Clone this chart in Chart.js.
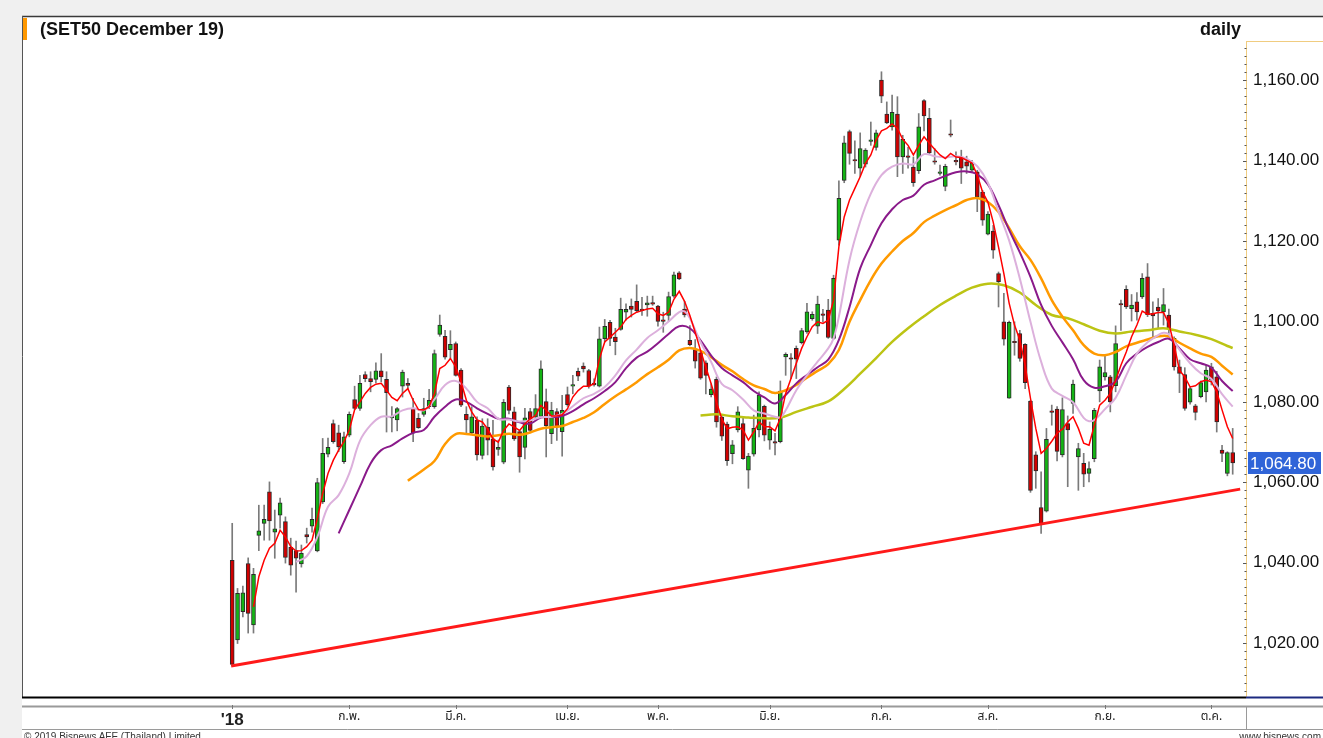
<!DOCTYPE html>
<html>
<head>
<meta charset="utf-8">
<script src="https://cdn.jsdelivr.net/npm/chart.js@4.4.1/dist/chart.umd.min.js"></script>
<style>
  html, body { margin: 0; padding: 0; background: #f0f0f0; }
  #wrap { position: relative; width: 1323px; height: 738px; overflow: hidden; }
  #c { position: absolute; left: 0; top: 0; }
  .lbl { position: absolute; font-family: "Liberation Sans", Arial, sans-serif; color: #111; white-space: nowrap; }
  #title { left: 40px; top: 19px; font-size: 18px; font-weight: bold; }
  #freq { right: 82px; top: 19px; font-size: 18px; font-weight: bold; }
  #copy { left: 24px; top: 731px; font-size: 10px; color: #333; }
  #site { right: 2px; top: 731px; font-size: 10px; color: #333; }
</style>
</head>
<body>
<div id="wrap">
  <canvas id="c" width="1323" height="738"></canvas>
  <div class="lbl" id="title">(SET50 December 19)</div>
  <div class="lbl" id="freq">daily</div>
  <div class="lbl" id="copy">© 2019 Bisnews AFE (Thailand) Limited</div>
  <div class="lbl" id="site">www.bisnews.com</div>
</div>
<script>
/* globals Chart:false */

// SET50 futures, daily bars, 2 Jan - 5 Oct 2018 (trading-day index 0..188)
const open = [
  1040.6, 1020.8, 1027.8, 1039.8, 1024.5, 1046.8, 1049.8, 1057.6, 1047.6, 1051.8,
  1050.2, 1043.8, 1043.0, 1039.7, 1047.0, 1049.1, 1042.9, 1055.1, 1067.0, 1074.6,
  1072.3, 1065.1, 1071.7, 1080.6, 1078.4, 1086.8, 1085.8, 1085.6, 1087.7, 1085.6,
  1076.0, 1075.5, 1083.9, 1084.6, 1078.4, 1075.9, 1076.9, 1078.8, 1078.8, 1096.8,
  1096.3, 1093.0, 1094.5, 1087.9, 1076.9, 1072.3, 1075.5, 1066.7, 1073.7, 1070.8,
  1068.2, 1065.0, 1083.7, 1077.5, 1072.6, 1068.7, 1077.6, 1076.2, 1076.4, 1080.1,
  1072.1, 1077.6, 1072.6, 1081.8, 1083.9, 1087.6, 1088.9, 1087.8, 1084.7, 1083.9,
  1095.7, 1099.8, 1096.1, 1098.0, 1102.3, 1103.8, 1105.0, 1103.1, 1104.1, 1104.4,
  1103.8, 1100.3, 1101.5, 1106.3, 1112.1, 1103.1, 1095.3, 1093.0, 1092.2, 1089.7,
  1081.8, 1085.6, 1076.2, 1074.5, 1067.1, 1073.0, 1074.6, 1063.0, 1067.0, 1073.0,
  1078.9, 1070.5, 1070.1, 1070.1, 1091.2, 1090.8, 1093.3, 1094.7, 1097.4, 1100.7,
  1098.8, 1101.8, 1102.8, 1095.8, 1120.2, 1135.1, 1147.2, 1140.1, 1138.1, 1139.1,
  1144.8, 1143.3, 1160.0, 1151.6, 1148.4, 1151.6, 1140.9, 1140.9, 1138.4, 1137.5,
  1154.9, 1150.5, 1139.9, 1136.8, 1133.6, 1146.6, 1139.9, 1140.9, 1139.7, 1137.6,
  1137.2, 1132.2, 1121.7, 1122.5, 1111.9, 1099.9, 1080.9, 1094.9, 1097.0, 1094.3,
  1080.2, 1066.8, 1053.7, 1052.8, 1077.5, 1078.2, 1066.8, 1074.6, 1079.6, 1066.3,
  1064.7, 1062.2, 1065.9, 1082.7, 1086.2, 1086.2, 1084.0, 1104.2, 1108.0, 1103.2,
  1104.9, 1106.1, 1111.1, 1102.0, 1103.6, 1102.4, 1101.6, 1095.8, 1088.7, 1086.8,
  1079.9, 1079.0, 1081.3, 1082.5, 1088.7, 1086.2, 1068.0, 1062.2, 1067.4
];
const high = [
  1049.8, 1033.6, 1034.2, 1041.2, 1038.6, 1054.3, 1054.3, 1060.1, 1053.1, 1056.1,
  1051.4, 1046.1, 1045.4, 1044.4, 1048.6, 1053.6, 1061.0, 1070.9, 1071.0, 1075.5,
  1074.2, 1072.5, 1077.5, 1083.9, 1086.6, 1087.5, 1087.5, 1089.7, 1092.0, 1087.5,
  1078.8, 1078.6, 1087.9, 1085.8, 1080.9, 1077.1, 1080.9, 1083.1, 1092.9, 1101.6,
  1097.8, 1097.7, 1094.9, 1088.3, 1078.8, 1078.8, 1076.3, 1075.8, 1075.8, 1075.4,
  1070.5, 1080.6, 1084.1, 1078.7, 1072.9, 1078.4, 1078.4, 1081.8, 1090.2, 1083.2,
  1079.9, 1078.3, 1081.6, 1083.7, 1086.6, 1088.4, 1089.7, 1088.1, 1085.7, 1098.6,
  1100.5, 1100.3, 1098.3, 1105.8, 1104.4, 1105.6, 1109.1, 1106.0, 1106.3, 1106.3,
  1104.0, 1102.3, 1107.3, 1112.3, 1112.4, 1105.0, 1099.0, 1095.5, 1092.4, 1090.2,
  1084.5, 1086.2, 1076.6, 1075.0, 1070.4, 1078.8, 1076.4, 1067.2, 1076.7, 1082.5,
  1079.2, 1075.0, 1072.2, 1085.2, 1092.2, 1092.0, 1093.9, 1098.3, 1104.5, 1102.4,
  1106.3, 1103.0, 1105.5, 1111.5, 1135.0, 1146.1, 1147.6, 1144.9, 1146.9, 1143.0,
  1149.6, 1147.6, 1162.1, 1154.6, 1156.3, 1155.9, 1146.3, 1143.3, 1140.9, 1151.7,
  1155.2, 1153.0, 1143.0, 1138.9, 1139.1, 1150.1, 1142.2, 1142.6, 1141.1, 1140.1,
  1137.6, 1132.6, 1127.3, 1123.9, 1112.3, 1107.0, 1100.1, 1099.9, 1097.8, 1094.5,
  1080.4, 1067.6, 1062.6, 1073.4, 1079.2, 1078.8, 1081.0, 1076.5, 1085.4, 1069.7,
  1067.2, 1065.1, 1078.4, 1090.4, 1091.8, 1086.6, 1098.9, 1105.3, 1108.9, 1106.7,
  1107.2, 1111.9, 1114.4, 1104.9, 1105.7, 1108.2, 1103.1, 1096.2, 1090.4, 1088.5,
  1083.7, 1079.4, 1085.2, 1089.1, 1089.6, 1087.6, 1069.2, 1067.6, 1073.4
];
const low = [
  1014.5, 1019.9, 1026.5, 1022.5, 1022.5, 1043.0, 1045.6, 1045.6, 1041.1, 1048.6,
  1039.9, 1036.9, 1032.7, 1038.9, 1044.9, 1047.6, 1042.7, 1054.7, 1066.3, 1069.7,
  1067.6, 1064.7, 1071.3, 1078.1, 1077.9, 1085.0, 1082.5, 1084.7, 1085.0, 1072.5,
  1072.5, 1072.8, 1081.2, 1083.3, 1070.1, 1073.4, 1076.4, 1078.3, 1078.4, 1096.3,
  1090.6, 1090.8, 1086.4, 1078.8, 1072.2, 1072.0, 1065.5, 1065.8, 1066.8, 1063.0,
  1066.7, 1064.6, 1077.0, 1070.4, 1062.5, 1065.8, 1072.5, 1075.8, 1076.2, 1066.3,
  1069.6, 1070.4, 1066.5, 1078.9, 1082.0, 1085.3, 1087.4, 1083.4, 1083.9, 1083.7,
  1094.9, 1094.0, 1091.7, 1097.8, 1100.3, 1101.1, 1102.3, 1101.5, 1101.3, 1104.0,
  1098.8, 1097.3, 1100.0, 1106.0, 1110.4, 1101.1, 1094.0, 1088.4, 1085.6, 1082.0,
  1081.2, 1073.7, 1070.4, 1064.2, 1064.6, 1072.5, 1065.7, 1058.5, 1066.5, 1071.3,
  1070.3, 1068.2, 1066.8, 1069.8, 1086.6, 1085.8, 1085.8, 1094.4, 1097.0, 1100.3,
  1097.0, 1099.9, 1095.8, 1095.5, 1119.0, 1134.5, 1139.1, 1136.8, 1136.0, 1138.4,
  1143.8, 1142.6, 1154.4, 1149.2, 1147.6, 1136.0, 1136.8, 1138.1, 1133.6, 1136.8,
  1147.4, 1141.6, 1139.1, 1136.4, 1132.5, 1145.9, 1138.9, 1134.3, 1136.8, 1137.2,
  1127.3, 1123.9, 1121.5, 1115.7, 1103.6, 1094.1, 1080.9, 1091.6, 1090.1, 1083.3,
  1057.5, 1058.5, 1047.3, 1052.6, 1074.2, 1065.3, 1066.3, 1058.9, 1077.1, 1058.0,
  1058.9, 1060.1, 1065.1, 1080.0, 1085.4, 1077.5, 1082.5, 1097.8, 1103.2, 1100.1,
  1100.3, 1105.7, 1101.2, 1096.2, 1098.3, 1099.1, 1097.0, 1087.9, 1082.3, 1077.9,
  1079.4, 1075.5, 1081.0, 1080.0, 1084.2, 1072.5, 1065.1, 1061.6, 1062.0
];
const close = [
  1014.7, 1032.4, 1032.5, 1027.4, 1037.1, 1047.9, 1050.8, 1050.4, 1048.4, 1054.9,
  1041.3, 1039.4, 1041.1, 1042.3, 1046.4, 1050.8, 1059.9, 1067.2, 1068.7, 1070.1,
  1068.8, 1071.3, 1076.9, 1078.4, 1084.6, 1085.8, 1085.0, 1087.7, 1086.2, 1082.3,
  1076.3, 1078.3, 1087.4, 1084.1, 1072.2, 1073.6, 1078.3, 1080.4, 1092.0, 1099.1,
  1091.1, 1094.3, 1086.6, 1079.2, 1075.5, 1076.3, 1066.8, 1074.0, 1070.5, 1063.8,
  1068.7, 1079.9, 1077.9, 1070.8, 1066.3, 1076.0, 1072.9, 1078.3, 1088.2, 1074.1,
  1077.9, 1073.7, 1077.9, 1079.3, 1084.1, 1086.4, 1088.2, 1083.9, 1084.2, 1095.7,
  1098.8, 1095.8, 1095.0, 1103.0, 1103.0, 1103.0, 1102.7, 1102.7, 1104.6, 1104.3,
  1100.0, 1100.0, 1106.2, 1111.6, 1110.6, 1101.6, 1094.2, 1090.1, 1085.9, 1086.6,
  1083.2, 1075.0, 1071.5, 1065.4, 1069.3, 1077.5, 1065.9, 1066.5, 1073.4, 1081.7,
  1071.7, 1073.2, 1069.7, 1082.7, 1091.8, 1090.6, 1090.6, 1097.7, 1102.4, 1101.8,
  1104.3, 1101.5, 1096.0, 1110.7, 1130.6, 1144.4, 1141.8, 1139.9, 1143.0, 1142.6,
  1144.9, 1146.9, 1156.0, 1149.4, 1152.0, 1140.9, 1145.3, 1140.8, 1134.5, 1148.4,
  1151.1, 1141.9, 1139.6, 1137.2, 1138.6, 1146.3, 1139.7, 1138.1, 1138.6, 1139.3,
  1131.0, 1125.2, 1126.7, 1117.7, 1109.9, 1095.6, 1099.8, 1094.7, 1090.8, 1084.8,
  1058.0, 1062.8, 1049.5, 1070.7, 1077.4, 1067.7, 1078.1, 1073.0, 1084.4, 1068.4,
  1062.0, 1063.4, 1077.9, 1088.7, 1087.3, 1080.0, 1094.5, 1104.1, 1103.6, 1104.1,
  1102.4, 1110.7, 1101.7, 1101.4, 1102.6, 1104.2, 1098.3, 1088.7, 1087.1, 1078.4,
  1083.3, 1077.4, 1084.8, 1087.9, 1085.4, 1075.0, 1067.2, 1067.4, 1064.8
];

// moving average lines
const ma5From = 4;
const ma5 = [
  1029.0, 1036.5, 1040.6, 1043.6, 1044.8, 1048.1, 1046.4, 1044.0, 1042.9, 1043.0,
  1044.0, 1045.6, 1051.0, 1057.2, 1062.2, 1065.5, 1068.0, 1070.1, 1073.0, 1078.0,
  1080.0, 1082.1, 1083.6, 1084.4, 1084.6, 1082.9, 1081.1, 1080.3, 1082.1, 1083.3,
  1080.4, 1078.1, 1078.0, 1078.8, 1082.1, 1088.3, 1089.1, 1090.8, 1088.7, 1085.0,
  1080.4, 1077.5, 1075.5, 1075.0, 1073.3, 1070.8, 1070.0, 1072.9, 1074.5, 1073.7,
  1072.9, 1074.5, 1075.8, 1076.6, 1079.1, 1077.9, 1076.5, 1076.5, 1076.8, 1078.3,
  1081.2, 1082.8, 1083.9, 1083.9, 1084.5, 1090.7, 1094.9, 1096.1, 1097.3, 1098.6,
  1100.5, 1101.5, 1102.3, 1102.7, 1103.1, 1103.3, 1101.9, 1101.5, 1102.3, 1105.5,
  1107.5, 1105.0, 1101.5, 1097.3, 1092.8, 1088.6, 1084.5, 1079.9, 1075.8, 1073.3,
  1073.7, 1073.8, 1073.0, 1070.5, 1072.5, 1075.0, 1073.8, 1073.8, 1072.8, 1075.9,
  1082.1, 1085.8, 1089.6, 1093.3, 1096.2, 1098.7, 1099.9, 1099.5, 1100.3, 1105.3,
  1118.6, 1126.0, 1130.2, 1133.1, 1136.0, 1139.3, 1141.4, 1145.1, 1147.4, 1148.0,
  1149.1, 1148.0, 1145.3, 1143.8, 1141.4, 1143.8, 1145.9, 1144.3, 1142.8, 1141.4,
  1140.5, 1141.8, 1140.9, 1140.8, 1140.1, 1139.4, 1136.4, 1132.2, 1129.7, 1124.7,
  1118.5, 1111.9, 1104.5, 1099.1, 1095.4, 1089.1, 1080.9, 1073.4, 1067.2, 1068.4,
  1070.2, 1072.2, 1073.2, 1075.0, 1076.3, 1073.4, 1069.7, 1069.2, 1074.2, 1079.2,
  1080.4, 1082.1, 1085.4, 1089.1, 1092.4, 1096.2, 1099.1, 1102.6, 1101.8, 1101.9,
  1102.2, 1102.2, 1099.5, 1094.1, 1087.9, 1086.2, 1083.7, 1084.0, 1085.0, 1085.4,
  1085.0, 1082.5, 1078.0, 1073.8, 1070.9
];
// [day index, value]
const ma13 = [
  [12, 1040.2], [14, 1041.6], [16, 1046.4], [18, 1053.9], [20, 1056.8], [22, 1062.2],
  [24, 1070.3], [26, 1074.2], [28, 1076.3], [30, 1076.4], [32, 1077.9], [34, 1078.4],
  [36, 1077.9], [38, 1080.6], [40, 1084.2], [42, 1085.2], [44, 1083.3], [46, 1080.0],
  [48, 1078.4], [50, 1075.8], [52, 1075.6], [54, 1075.1], [56, 1075.4], [58, 1076.2],
  [60, 1076.3], [62, 1077.0], [64, 1078.9], [66, 1080.9], [68, 1082.0], [70, 1083.7],
  [72, 1086.6], [74, 1090.3], [76, 1093.0], [78, 1095.9], [80, 1097.8], [82, 1100.0],
  [84, 1102.3], [85, 1102.5], [86, 1100.8], [88, 1094.9], [90, 1089.9], [92, 1084.5],
  [94, 1082.9], [96, 1080.6], [98, 1077.9], [100, 1077.1], [102, 1076.3], [103, 1076.1],
  [104, 1077.9], [106, 1082.9], [108, 1086.6], [110, 1090.0], [112, 1093.3], [113, 1095.8],
  [114, 1101.2], [116, 1115.3], [118, 1124.8], [120, 1131.8], [122, 1136.4], [124, 1138.5],
  [126, 1139.3], [128, 1139.1], [130, 1141.6], [132, 1141.1], [134, 1140.8], [136, 1141.1],
  [138, 1140.5], [140, 1138.6], [142, 1134.5], [144, 1127.3], [146, 1120.1], [148, 1110.7],
  [150, 1099.9], [152, 1090.0], [154, 1083.3], [156, 1081.5], [158, 1079.9], [160, 1076.0],
  [161, 1075.2], [162, 1075.5], [164, 1078.2], [166, 1081.0], [168, 1086.6], [170, 1092.0],
  [172, 1094.8], [174, 1096.6], [175, 1097.2], [176, 1096.8], [178, 1093.0], [180, 1089.6],
  [182, 1087.1], [184, 1085.7], [186, 1081.9], [188, 1078.8]
];
const ma21 = [
  [20, 1047.3], [22, 1053.1], [24, 1058.9], [26, 1064.7], [28, 1068.0], [30, 1069.2],
  [32, 1070.9], [34, 1072.3], [36, 1073.0], [38, 1076.3], [40, 1078.8], [42, 1080.6],
  [44, 1080.0], [46, 1078.4], [48, 1077.0], [50, 1075.8], [52, 1075.8], [54, 1074.9],
  [56, 1074.6], [58, 1076.1], [60, 1076.2], [62, 1076.5], [64, 1077.7], [66, 1079.4],
  [68, 1080.9], [70, 1082.7], [72, 1084.9], [74, 1088.4], [76, 1091.0], [78, 1092.5],
  [80, 1094.6], [82, 1096.9], [84, 1098.8], [86, 1098.3], [88, 1095.3], [90, 1091.5],
  [92, 1088.4], [94, 1086.6], [96, 1084.9], [98, 1082.7], [100, 1081.1], [102, 1079.6],
  [104, 1081.7], [106, 1084.6], [108, 1086.7], [110, 1088.6], [112, 1090.5], [114, 1095.4],
  [116, 1103.6], [118, 1113.2], [120, 1119.0], [122, 1124.4], [124, 1127.9], [126, 1130.2],
  [128, 1131.3], [130, 1134.0], [132, 1135.1], [134, 1136.2], [136, 1137.1], [138, 1137.3],
  [140, 1136.6], [142, 1134.1], [144, 1128.9], [146, 1122.7], [148, 1117.2], [150, 1111.1],
  [152, 1104.1], [154, 1098.9], [156, 1094.8], [158, 1090.6], [160, 1085.4], [162, 1083.5],
  [164, 1083.9], [166, 1085.0], [168, 1089.6], [170, 1092.0], [172, 1093.7], [174, 1094.9],
  [176, 1095.7], [178, 1093.3], [180, 1090.6], [182, 1089.6], [184, 1088.5], [186, 1085.2],
  [188, 1082.7]
];
const ma34 = [
  [33, 1060.4], [34, 1061.3], [36, 1063.2], [38, 1065.3], [40, 1069.5], [42, 1072.0],
  [44, 1072.0], [46, 1071.7], [48, 1071.4], [50, 1071.7], [52, 1072.1], [54, 1071.8],
  [56, 1072.4], [58, 1073.3], [60, 1073.7], [62, 1074.0], [64, 1075.0], [66, 1076.0],
  [68, 1077.4], [70, 1079.5], [72, 1081.4], [74, 1083.1], [76, 1084.9], [78, 1086.9],
  [80, 1088.6], [82, 1090.5], [84, 1092.8], [86, 1093.4], [88, 1092.7], [90, 1091.1],
  [92, 1089.2], [94, 1087.6], [96, 1085.7], [98, 1084.1], [100, 1083.2], [102, 1082.2],
  [104, 1082.9], [106, 1084.2], [108, 1086.0], [110, 1087.7], [112, 1089.4], [114, 1092.9],
  [116, 1099.9], [118, 1105.3], [120, 1110.3], [122, 1114.4], [124, 1117.4], [126, 1120.0],
  [128, 1122.0], [130, 1124.7], [132, 1126.3], [134, 1127.7], [136, 1128.9], [138, 1130.2],
  [140, 1130.7], [142, 1129.7], [144, 1127.2], [146, 1123.2], [148, 1118.7], [150, 1115.3],
  [152, 1110.7], [154, 1105.3], [156, 1101.2], [158, 1097.8], [160, 1094.1], [162, 1092.0],
  [164, 1091.6], [166, 1092.4], [168, 1093.8], [170, 1094.7], [172, 1095.5], [174, 1096.3],
  [176, 1096.3], [178, 1094.7], [180, 1093.3], [182, 1092.0], [184, 1091.2], [186, 1089.0],
  [188, 1086.8]
];
const ma89 = [
  [88, 1076.6], [91, 1076.9], [94, 1076.4], [97, 1076.1], [100, 1075.9], [103, 1076.1],
  [106, 1077.5], [109, 1078.8], [112, 1080.1], [115, 1083.2], [118, 1087.0], [121, 1090.9],
  [124, 1094.9], [127, 1098.3], [130, 1101.3], [133, 1104.1], [136, 1106.4], [139, 1108.4],
  [142, 1109.4], [145, 1109.0], [148, 1107.2], [151, 1104.1], [154, 1101.6], [157, 1100.8],
  [160, 1099.3], [163, 1097.7], [166, 1097.0], [169, 1097.5], [172, 1097.8], [175, 1098.3],
  [178, 1097.5], [181, 1096.7], [184, 1095.6], [187, 1093.9], [188, 1093.4]
];
// support trend line (two anchor points)
const trendDays = [-0.2, 189.4];
const trendValues = [1014.3, 1058.3];

// first trading day of each month and its label
const monthDays = [0, 22, 42, 63, 80, 101, 122, 142, 164, 184];
const monthLabels = ["'18", 'ก.พ.', 'มี.ค.', 'เม.ย.', 'พ.ค.', 'มิ.ย.', 'ก.ค.', 'ส.ค.', 'ก.ย.', 'ต.ค.'];
const priceTicks = [1020, 1040, 1060, 1080, 1100, 1120, 1140, 1160];

const fmt = v => v.toLocaleString('en-US', { minimumFractionDigits: 2, maximumFractionDigits: 2 });
const pts = pairs => pairs.map(([d, v]) => ({ x: d, y: v }));

const GREEN = '#14b414';
const RED = '#d00000';

const wicks = close.map((_, i) => ({ x: i, y: [low[i], high[i]] }));
const bodies = close.map((c, i) => ({ x: i, y: [open[i], c] }));
const bodyColors = close.map((c, i) => (c >= open[i] ? GREEN : RED));

const framePlugin = {
  id: 'frame',
  beforeDraw(chart) {
    const { ctx, width, height } = chart;
    ctx.save();
    ctx.fillStyle = '#f0f0f0';
    ctx.fillRect(0, 0, width, height);
    ctx.fillStyle = '#ffffff';
    ctx.fillRect(22, 16, width - 22, height - 16);
    ctx.restore();
  },
  afterDraw(chart) {
    const { ctx, chartArea: a, scales, width } = chart;
    const yS = scales.y;
    const xS = scales.x;
    const ln = (x1, y1, x2, y2, col, w) => {
      ctx.strokeStyle = col;
      ctx.lineWidth = w;
      ctx.beginPath();
      ctx.moveTo(x1, y1);
      ctx.lineTo(x2, y2);
      ctx.stroke();
    };
    ctx.save();
    // outer panel lines
    ln(22, 16.5, width, 16.5, '#3a3a3a', 1.5);
    ln(22.5, 16, 22.5, a.bottom, '#555', 1);
    // orange marker left of title
    ctx.fillStyle = '#ff9800';
    ctx.fillRect(23, 18, 4, 22);
    // price axis box
    ln(a.right + 0.5, a.top - 1, a.right + 0.5, a.bottom, '#f0cc80', 1);
    ln(a.right, a.top - 0.5, width, a.top - 0.5, '#f0cc80', 1);
    for (let v = 1008; v <= 1168; v += 2) {
      const py = Math.round(yS.getPixelForValue(v)) + 0.5;
      const major = v % 20 === 0;
      ln(a.right - (major ? 3 : 1.5), py, a.right + 0.5, py, '#555', 1);
    }
    // last price tag
    const last = close[close.length - 1];
    const ty = yS.getPixelForValue(last);
    ctx.fillStyle = '#2f64d8';
    ctx.fillRect(a.right + 2, ty - 11, 73, 22);
    ctx.fillStyle = '#ffffff';
    ctx.font = '17px "Liberation Sans", Arial, sans-serif';
    ctx.textBaseline = 'middle';
    ctx.textAlign = 'left';
    ctx.fillText(fmt(last), a.right + 4, ty + 1);
    // bottom of plot and time axis band
    ln(22, a.bottom + 0.5, a.right, a.bottom + 0.5, '#000', 2);
    ln(a.right, a.bottom + 0.5, width, a.bottom + 0.5, '#1c2a80', 2);
    ln(22, 706.5, width, 706.5, '#9a9a9a', 2);
    ln(22, 729.5, width, 729.5, '#9a9a9a', 1);
    ln(a.right + 0.5, 706, a.right + 0.5, 730, '#9a9a9a', 1);
    monthDays.forEach(d => {
      const px = Math.round(xS.getPixelForValue(d)) + 0.5;
      ln(px, 705, px, 709, '#777', 1);
    });
    ctx.restore();
  }
};

const ctx = document.getElementById('c');
// eslint-disable-next-line no-unused-vars
const chart = new Chart(ctx, {
  type: 'bar',
  data: {
    datasets: [
      {
        type: 'line',
        data: trendDays.map((d, i) => ({ x: d, y: trendValues[i] })),
        borderColor: '#ff1a1a',
        borderWidth: 3,
        pointRadius: 0,
        order: 1
      },
      {
        type: 'line',
        data: ma5.map((v, j) => ({ x: j + ma5From, y: v })),
        borderColor: '#ff0000',
        borderWidth: 1.5,
        pointRadius: 0,
        order: 2
      },
      {
        type: 'line',
        data: pts(ma13),
        borderColor: '#dcb0dc',
        borderWidth: 2,
        pointRadius: 0,
        tension: 0.4,
        order: 3
      },
      {
        type: 'line',
        data: pts(ma21),
        borderColor: '#8a1a8a',
        borderWidth: 2,
        pointRadius: 0,
        tension: 0.4,
        order: 4
      },
      {
        type: 'line',
        data: pts(ma34),
        borderColor: '#ff9a00',
        borderWidth: 2.5,
        pointRadius: 0,
        tension: 0.4,
        order: 5
      },
      {
        type: 'line',
        data: pts(ma89),
        borderColor: '#bcc414',
        borderWidth: 2.5,
        pointRadius: 0,
        tension: 0.4,
        order: 6
      },
      {
        type: 'bar',
        data: bodies,
        backgroundColor: bodyColors,
        borderColor: '#2a2a2a',
        borderWidth: 1,
        borderSkipped: false,
        barThickness: 4,
        minBarLength: 1.5,
        grouped: false,
        order: 7
      },
      {
        type: 'bar',
        data: wicks,
        backgroundColor: '#7a7a7a',
        barThickness: 1,
        grouped: false,
        order: 8
      }
    ]
  },
  options: {
    responsive: false,
    animation: false,
    devicePixelRatio: 1,
    layout: { padding: { left: 22, top: 42, right: 0, bottom: 0 } },
    plugins: {
      legend: { display: false },
      tooltip: { enabled: false }
    },
    scales: {
      x: {
        type: 'linear',
        min: -39.5,
        max: 190.5,
        offset: false,
        bounds: 'data',
        grid: { display: false, drawTicks: false },
        border: { display: false },
        afterBuildTicks: s => { s.ticks = monthDays.map(v => ({ value: v })) },
        afterFit: s => { s.height = 41 },
        ticks: {
          autoSkip: false,
          maxRotation: 0,
          padding: 13,
          color: '#222',
          font: c => (c.index === 0
            ? { family: '"Liberation Sans", Arial, sans-serif', size: 17, weight: 'bold' }
            : { family: 'Tahoma, "Noto Sans Thai", "DejaVu Sans", sans-serif', size: 12 }),
          callback: v => monthLabels[monthDays.indexOf(v)]
        }
      },
      y: {
        type: 'linear',
        position: 'right',
        min: 1006.6,
        max: 1169.5,
        bounds: 'data',
        grid: { display: false, drawTicks: false },
        border: { display: false },
        afterBuildTicks: s => { s.ticks = priceTicks.map(v => ({ value: v })) },
        afterFit: s => { s.width = 77 },
        ticks: {
          padding: 7,
          color: '#111',
          font: { family: '"Liberation Sans", Arial, sans-serif', size: 17 },
          callback: v => fmt(v)
        }
      }
    }
  },
  plugins: [framePlugin]
});
</script>
</body>
</html>
